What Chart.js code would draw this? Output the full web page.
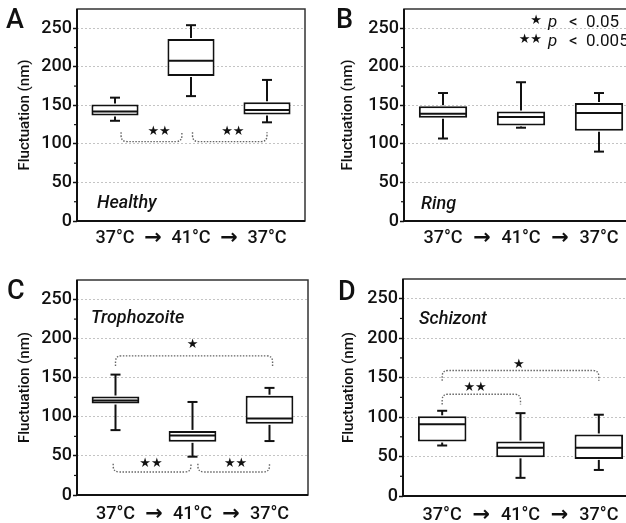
<!DOCTYPE html>
<html>
<head>
<meta charset="utf-8">
<script src="https://cdn.jsdelivr.net/npm/chart.js@4.4.1/dist/chart.umd.min.js"></script>
<style>
  html, body { margin: 0; padding: 0; background: #fff; width: 626px; height: 523px; overflow: hidden; }
  canvas { position: absolute; }
</style>
</head>
<body>
<canvas id="pA" width="313" height="262" style="left:0;top:0"></canvas>
<canvas id="pB" width="330" height="262" style="left:313px;top:0"></canvas>
<canvas id="pC" width="313" height="262" style="left:0;top:261px"></canvas>
<canvas id="pD" width="330" height="262" style="left:313px;top:261px"></canvas>
<script>
// ---- data -------------------------------------------------------------
const conditions = ['37°C', '41°C', '37°C'];
const stages = ['Healthy', 'Ring', 'Trophozoite', 'Schizont'];
const yTitle = 'Fluctuation (nm)';

// Healthy RBCs: whisker low, Q1, median, Q3, whisker high (nm)
const healthyMin = [130, 162, 128];
const healthyQ1 = [137, 188, 138];
const healthyMedian = [142, 208, 144];
const healthyQ3 = [151, 236, 154];
const healthyMax = [160, 254, 183];

// Ring stage
const ringMin = [107, 121, 90];
const ringQ1 = [134, 124, 117];
const ringMedian = [139, 135, 140];
const ringQ3 = [149, 142, 153];
const ringMax = [166, 180, 166];

// Trophozoite stage
const trophMin = [83, 49, 69];
const trophQ1 = [117, 68, 91];
const trophMedian = [121, 76, 98];
const trophQ3 = [126, 82, 127];
const trophMax = [154, 119, 137];

// Schizont stage
const schizMin = [64, 23, 33];
const schizQ1 = [69, 49, 47];
const schizMedian = [91, 61, 61];
const schizQ3 = [101, 69, 78];
const schizMax = [108, 105, 103];

// significance brackets: category span, bar level, end level, mark and where it sits
const healthyBrackets = [
  { from: 0.08, to: 0.88, level: 103, tip: 115, mark: '★★', markAt: 0.58, markY: 116 },
  { from: 1.02, to: 2.0, level: 103, tip: 115, mark: '★★', markAt: 1.55, markY: 116 }
];
const ringBrackets = [];
const trophBrackets = [
  { from: 0.0, to: 2.04, level: 178, tip: 165, mark: '★', markAt: 1.0, markY: 192 },
  { from: -0.03, to: 0.98, level: 29.5, tip: 40, mark: '★★', markAt: 0.46, markY: 40.5 },
  { from: 1.07, to: 2.0, level: 29.5, tip: 40, mark: '★★', markAt: 1.56, markY: 40.5 }
];
const schizBrackets = [
  { from: 0.0, to: 2.0, level: 159, tip: 146, mark: '★', markAt: 0.98, markY: 167 },
  { from: 0.0, to: 1.0, level: 129, tip: 116, mark: '★★', markAt: 0.42, markY: 137 }
];

const legendMarks = ['★', '★★'];
const legendTexts = ['< 0.05', '< 0.005'];

// ---- drawing ----------------------------------------------------------
const FONT = "Roboto, 'Liberation Sans', Arial, sans-serif";
const STAR_FONT = "'DejaVu Sans', sans-serif";
const INK = '#111';

function seg(ctx, x1, y1, x2, y2) {
  ctx.beginPath();
  ctx.moveTo(x1, y1);
  ctx.lineTo(x2, y2);
  ctx.stroke();
}

function makeExtras(p) {
  return {
    id: 'boxExtras' + p.letter,
    afterDatasetsDraw(chart) {
      const { ctx, scales: { y } } = chart;
      const bars = chart.getDatasetMeta(0).data;
      ctx.save();
      ctx.strokeStyle = INK;
      ctx.lineWidth = 2;
      bars.forEach((bar, i) => {
        const cx = bar.x, half = bar.width / 2, cap = 5;
        const hi = y.getPixelForValue(p.max[i]);
        const lo = y.getPixelForValue(p.min[i]);
        const q1 = y.getPixelForValue(p.q1[i]);
        const q3 = y.getPixelForValue(p.q3[i]);
        const md = y.getPixelForValue(p.median[i]);
        seg(ctx, cx, q3 - 1, cx, hi);
        seg(ctx, cx - cap, hi, cx + cap, hi);
        seg(ctx, cx, q1 + 1, cx, lo);
        seg(ctx, cx - cap, lo, cx + cap, lo);
        seg(ctx, cx - half + 1, md, cx + half - 1, md);
      });
      ctx.restore();
    },
    afterDraw(chart) {
      const { ctx, chartArea: a, scales: { x, y } } = chart;
      ctx.save();

      // plot frame
      ctx.strokeStyle = '#333';
      ctx.lineWidth = 1.5;
      ctx.strokeRect(a.left, a.top, a.right - a.left, a.bottom - a.top);
      ctx.strokeStyle = INK;
      ctx.lineWidth = 2;
      seg(ctx, a.left, a.top, a.left, a.bottom + 1);
      seg(ctx, a.left - 1, a.bottom, a.right, a.bottom);

      // minor ticks between labelled values
      ctx.lineWidth = 1.2;
      for (let v = 25; v < 250; v += 50) {
        const py = y.getPixelForValue(v);
        seg(ctx, a.left - 3, py, a.left, py);
      }

      // arrows between the temperature steps
      const xLine = 18 * 1.2;
      ctx.fillStyle = INK;
      ctx.font = `bold 21px ${STAR_FONT}`;
      ctx.textAlign = 'center';
      ctx.textBaseline = 'middle';
      const arrowY = a.bottom + p.xPad + xLine / 2;
      for (let i = 0; i < conditions.length - 1; i++) {
        const xm = (x.getPixelForValue(i) + x.getPixelForValue(i + 1)) / 2;
        ctx.fillText('→', xm, arrowY);
      }

      // panel letter
      ctx.textAlign = 'left';
      ctx.textBaseline = 'alphabetic';
      ctx.font = `500 27px ${FONT}`;
      ctx.fillText(p.letter, p.letterX, p.letterY);

      // stage name
      ctx.font = `italic 500 18px ${FONT}`;
      const sy = p.stageTop ? a.top + p.stageDY : a.bottom - p.stageDY;
      ctx.fillText(stages[p.stage], a.left + p.stageDX, sy);

      // significance brackets
      p.brackets.forEach(b => {
        const xl = x.getPixelForValue(b.from), xr = x.getPixelForValue(b.to);
        const yl = y.getPixelForValue(b.level), yt = y.getPixelForValue(b.tip);
        const dir = Math.sign(yt - yl);
        const r = Math.min(6, Math.abs(yt - yl));
        ctx.strokeStyle = '#666';
        ctx.lineWidth = 1.4;
        ctx.setLineDash([1.5, 1.5]);
        ctx.beginPath();
        ctx.moveTo(xl, yt);
        ctx.lineTo(xl, yl + dir * r);
        ctx.quadraticCurveTo(xl, yl, xl + r, yl);
        ctx.lineTo(xr - r, yl);
        ctx.quadraticCurveTo(xr, yl, xr, yl + dir * r);
        ctx.lineTo(xr, yt);
        ctx.stroke();
        ctx.setLineDash([]);
        ctx.fillStyle = INK;
        ctx.font = `13px ${STAR_FONT}`;
        ctx.textAlign = 'center';
        ctx.textBaseline = 'middle';
        ctx.fillText(b.mark, x.getPixelForValue(b.markAt), y.getPixelForValue(b.markY));
      });

      // significance key
      if (p.legend) {
        legendMarks.forEach((m, i) => {
          const base = 27 + i * 19;
          ctx.fillStyle = INK;
          ctx.textBaseline = 'alphabetic';
          ctx.font = `13px ${STAR_FONT}`;
          ctx.textAlign = 'right';
          ctx.fillText(m, a.right - 96, base - 3);
          ctx.textAlign = 'left';
          ctx.font = `italic 17px ${FONT}`;
          ctx.fillText('p', a.right - 90, base);
          const parts = legendTexts[i].split(' ');
          ctx.font = `17px ${FONT}`;
          ctx.fillText(parts[0], a.right - 69, base);
          ctx.fillText(parts[1], a.right - 52, base);
        });
      }
      ctx.restore();
    }
  };
}

const panels = [
  { id: 'pA', letter: 'A', stage: 0, min: healthyMin, q1: healthyQ1, median: healthyMedian, q3: healthyQ3, max: healthyMax,
    brackets: healthyBrackets, yWidth: 77, padTop: 9, padRight: 8, xHeight: 41, xPad: 7, titlePad: 16,
    letterX: 6, letterY: 28, stageTop: false, stageDX: 20, stageDY: 13, legend: false },
  { id: 'pB', letter: 'B', stage: 1, min: ringMin, q1: ringQ1, median: ringMedian, q3: ringQ3, max: ringMax,
    brackets: ringBrackets, yWidth: 91, padTop: 9, padRight: 5, xHeight: 41, xPad: 7, titlePad: 26,
    letterX: 23, letterY: 28, stageTop: false, stageDX: 17, stageDY: 12, legend: true },
  { id: 'pC', letter: 'C', stage: 2, min: trophMin, q1: trophQ1, median: trophMedian, q3: trophQ3, max: trophMax,
    brackets: trophBrackets, yWidth: 77, padTop: 19, padRight: 5, xHeight: 28, xPad: 9, titlePad: 16,
    letterX: 7, letterY: 38, stageTop: true, stageDX: 14, stageDY: 43, legend: false },
  { id: 'pD', letter: 'D', stage: 3, min: schizMin, q1: schizQ1, median: schizMedian, q3: schizQ3, max: schizMax,
    brackets: schizBrackets, yWidth: 90, padTop: 18, padRight: 5, xHeight: 27, xPad: 9, titlePad: 27,
    letterX: 25, letterY: 39, stageTop: true, stageDX: 16, stageDY: 45, legend: false }
];

panels.forEach(p => {
  new Chart(document.getElementById(p.id), {
    type: 'bar',
    data: {
      labels: conditions,
      datasets: [{
        data: p.q1.map((v, i) => [v, p.q3[i]]),
        backgroundColor: '#fff',
        borderColor: INK,
        borderWidth: 2,
        borderSkipped: false,
        barPercentage: 0.62,
        categoryPercentage: 1.0
      }]
    },
    options: {
      responsive: false,
      animation: false,
      devicePixelRatio: 1,
      layout: { padding: { left: 0, top: p.padTop, right: p.padRight, bottom: 0 } },
      plugins: { legend: { display: false }, tooltip: { enabled: false } },
      scales: {
        x: {
          grid: { display: false, drawTicks: false },
          border: { display: false },
          ticks: { color: INK, font: { family: FONT, size: 18, weight: '500' }, padding: p.xPad, maxRotation: 0, autoSkip: false },
          afterFit(s) { s.height = p.xHeight; s.paddingLeft = 0; s.paddingRight = 0; }
        },
        y: {
          min: 0,
          max: 275,
          grid: {
            color: c => (c.tick && c.tick.value > 0 ? '#c4c4c4' : 'rgba(0,0,0,0)'),
            lineWidth: 1,
            tickLength: 4,
            tickColor: INK,
            tickWidth: 1.5
          },
          border: { display: false, dash: [2, 2] },
          ticks: { stepSize: 50, includeBounds: false, color: INK, font: { family: FONT, size: 18, weight: '500' }, padding: 1 },
          title: { display: true, text: yTitle, color: INK, font: { family: FONT, size: 15, weight: '500' }, padding: { top: p.titlePad, bottom: 0 } },
          afterFit(s) { s.width = p.yWidth; s.paddingTop = 0; s.paddingBottom = 0; }
        }
      }
    },
    plugins: [makeExtras(p)]
  });
});
</script>
</body>
</html>
